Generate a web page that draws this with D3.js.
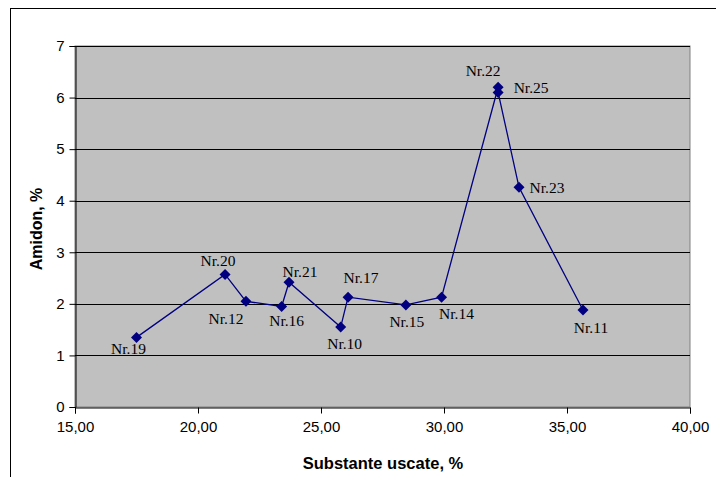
<!DOCTYPE html>
<html><head><meta charset="utf-8">
<script src="https://cdn.jsdelivr.net/npm/d3@7"></script>
<style>body{margin:0;background:#fff}svg{display:block}</style>
</head><body>
<svg id="c" width="716" height="477"></svg>
<script>
const names = ["Nr.19","Nr.20","Nr.12","Nr.16","Nr.21","Nr.10","Nr.17","Nr.15","Nr.14","Nr.22","Nr.25","Nr.23","Nr.11"];
const xVals = [17.5, 21.1, 21.95, 23.4, 23.7, 25.8, 26.1, 28.45, 29.9, 32.2, 32.2, 33.05, 35.65];
const yVals = [1.35, 2.57, 2.05, 1.95, 2.42, 1.55, 2.13, 1.98, 2.13, 6.2, 6.1, 4.26, 1.88];
const xTicks = [15, 20, 25, 30, 35, 40];
const yTicks = [0, 1, 2, 3, 4, 5, 6, 7];
// label offsets (dx, dy) relative to point
const labelOff = [[-8,17],[-7,-8],[-20,23],[5,20],[11,-5],[4,22],[13,-14],[1,22],[15,22],[-15,-11],[33,1],[28,6],[8,23]];

const svg = d3.select("#c");
const L = 75, R = 690, T = 46, B = 407;
const x = d3.scaleLinear().domain([15,40]).range([L,R]);
const y = d3.scaleLinear().domain([0,7]).range([B,T]);

svg.append("rect").attr("x",10.5).attr("y",8.5).attr("width",720).attr("height",480)
  .attr("fill","none").attr("stroke","#000").attr("stroke-width",1);

svg.append("rect").attr("x",L).attr("y",T).attr("width",R-L).attr("height",B-T)
  .attr("fill","#C0C0C0").attr("stroke","#808080").attr("stroke-width",1);

svg.append("g").selectAll("line").data(yTicks.filter(d=>d>0)).join("line")
  .attr("x1",L).attr("x2",R).attr("y1",d=>Math.round(y(d))+0.5).attr("y2",d=>Math.round(y(d))+0.5)
  .attr("stroke","#000").attr("stroke-width",1);

const xa = svg.append("g").attr("transform",`translate(0,${B+0.5})`)
  .call(d3.axisBottom(x).tickValues(xTicks).tickSize(6).tickPadding(8)
    .tickFormat(d=>d3.format(".2f")(d).replace(".",",")));
const ya = svg.append("g").attr("transform",`translate(${L+0.5},0)`)
  .call(d3.axisLeft(y).tickValues(yTicks).tickSize(6).tickPadding(5).tickFormat(d3.format("d")));
[xa,ya].forEach(a=>{
  a.select(".domain").attr("stroke","#000");
  a.selectAll(".tick line").attr("stroke","#000");
  a.selectAll("text").attr("font-family","Liberation Sans, Arial, sans-serif").attr("font-size",15).attr("fill","#000");
});

const pts = names.map((n,i)=>({n, x:xVals[i], y:yVals[i], o:labelOff[i]}));
svg.append("path").datum(pts)
  .attr("d", d3.line().x(d=>x(d.x)).y(d=>y(d.y)))
  .attr("fill","none").attr("stroke","#000080").attr("stroke-width",1.3);

svg.append("g").selectAll("path").data(pts).join("path")
  .attr("transform",d=>`translate(${x(d.x)},${y(d.y)})`)
  .attr("d","M0,-5.5L5.5,0L0,5.5L-5.5,0Z").attr("fill","#000080");

svg.append("g").selectAll("text").data(pts).join("text")
  .attr("x",d=>x(d.x)+d.o[0]).attr("y",d=>y(d.y)+d.o[1])
  .attr("text-anchor","middle")
  .attr("font-family","Liberation Serif, Times New Roman, serif").attr("font-size",15.5)
  .attr("fill","#000").text(d=>d.n);

svg.append("text").attr("x",383).attr("y",469).attr("text-anchor","middle")
  .attr("font-family","Liberation Sans, Arial, sans-serif").attr("font-weight","bold").attr("font-size",16.5)
  .text("Substante uscate, %");
svg.append("text").attr("transform","translate(42,229) rotate(-90)").attr("text-anchor","middle")
  .attr("font-family","Liberation Sans, Arial, sans-serif").attr("font-weight","bold").attr("font-size",16)
  .text("Amidon, %");
</script>
</body></html>
